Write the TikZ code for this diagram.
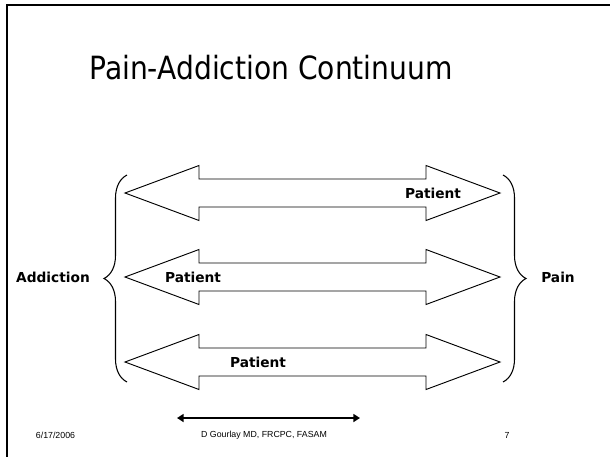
\documentclass[tikz,border=0pt]{standalone}
\usepackage{fontspec}
\setmainfont{DejaVu Sans}
\newfontfamily\titlefont{DejaVu Sans}[FakeStretch=0.88]
\newfontfamily\footfont{Liberation Sans}
\usetikzlibrary{arrows.meta,decorations.pathreplacing}

\tikzset{
  lbl/.style={font=\bfseries\fontsize{10.3}{12}\selectfont, inner sep=1pt},
  foot/.style={font=\footfont\fontsize{6.6}{8}\selectfont, inner sep=0pt},
  curly/.style={decorate, decoration={brace, amplitude=17.25pt}, line width=0.8pt, black},
  span/.style={line width=1.5pt, {Triangle[length=5pt,width=6pt]}-{Triangle[length=5pt,width=6pt]}},
  blockarrow/.pic={
    \draw[line width=0.7pt] (-187.5,0) -- (-113.5,-27.5) -- (-113.5,-14) -- (113.5,-14)
      -- (113.5,-27.5) -- (187.5,0) -- (113.5,27.5) -- (113.5,14) -- (-113.5,14)
      -- (-113.5,27.5) -- cycle;
  }
}

\begin{document}
\begin{tikzpicture}[x=0.75pt,y=-0.75pt]
  \useasboundingbox (0,0) rectangle (610,457);
  \draw[line width=1.5pt] (610,5) -- (7,5) -- (7,457);
  \node[font=\titlefont\fontsize{24}{28}\selectfont] (title) at (271,68) {Pain-Addiction Continuum};

  \pic at (312.5,193) {blockarrow};
  \pic at (312.5,277) {blockarrow};
  \pic at (312.5,362) {blockarrow};
  \node[lbl] (patient1) at (433,193) {Patient};
  \node[lbl] (patient2) at (193,277) {Patient};
  \node[lbl] (patient3) at (258,362) {Patient};

  \draw[curly] (127,382) -- (127,175);
  \draw[curly] (503,175) -- (503,382);
  \node[lbl] (addiction) at (53,277) {Addiction};
  \node[lbl] (pain) at (558,277) {Pain};

  \coordinate (lo) at (177,418);
  \coordinate (hi) at (360,418);
  \draw[span] (lo) -- (hi);

  \node[foot] (date) at (55.5,435) {6/17/2006};
  \node[foot] (author) at (264,435) {D Gourlay MD, FRCPC, FASAM};
  \node[foot] (page) at (507,435) {7};
\end{tikzpicture}
\end{document}
